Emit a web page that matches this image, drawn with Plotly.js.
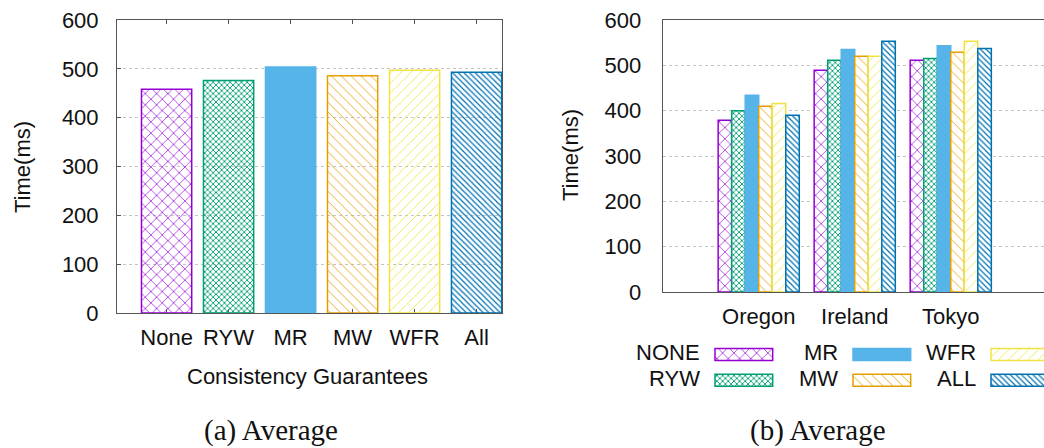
<!DOCTYPE html>
<html><head><meta charset="utf-8">
<script src="https://cdn.plot.ly/plotly-3.0.1.min.js"></script>
<style>html,body{margin:0;padding:0;background:#fff}#chart{width:1044px;height:448px}</style>
</head><body><div id="chart"></div>
<script>
// ---- data ----
const guarantees = ['None', 'RYW', 'MR', 'MW', 'WFR', 'All'];
const avgTime = [458, 476, 504, 486, 497, 493];

const regions = ['Oregon', 'Ireland', 'Tokyo'];
const seriesNames = ['NONE', 'RYW', 'MR', 'MW', 'WFR', 'ALL'];
const noneTime = [379, 489, 511];
const rywTime  = [400, 511, 515];
const mrTime   = [434, 535, 543];
const mwTime   = [410, 520, 529];
const wfrTime  = [416, 520, 553];
const allTime  = [390, 553, 537];
const regionSeries = [noneTime, rywTime, mrTime, mwTime, wfrTime, allTime];

const yTicks = [0, 100, 200, 300, 400, 500, 600];
const leftTitleY = 'Time(ms)';
const leftTitleX = 'Consistency Guarantees';
const captionA = '(a) Average';
const captionB = '(b) Average';

// ---- styles ----
const colors  = ['#9400d3', '#009e73', '#56b4e9', '#e69f00', '#f0e442', '#0072b2'];
const shapes  = ['x', 'x', '', '\\', '/', '\\'];
const psize   = [8, 4, 8, 7, 7, 4];
const psolid  = [0.16, 0.4, 0.3, 0.12, 0.12, 0.3];

const W = 1044, H = 448;
const px = v => v / W;
const py = v => 1 - v / H;
const sans = 'Liberation Sans, Arial, sans-serif';
const serif = 'Liberation Serif, Times New Roman, serif';
const tickFont = {family: sans, size: 22, color: '#111'};
const axisCol = '#555';

function markerFor(i) {
  return {
    color: colors[i],
    line: {color: colors[i], width: 1.5},
    pattern: {shape: shapes[i], fgcolor: colors[i], bgcolor: '#ffffff',
              size: psize[i], solidity: psolid[i], fillmode: 'replace'}
  };
}

const traces = [];
// Left chart: one bar per guarantee
traces.push({
  type: 'bar', x: guarantees, y: avgTime, width: 0.81, offset: -0.405,
  xaxis: 'x', yaxis: 'y', showlegend: false, hoverinfo: 'x+y',
  marker: {
    color: colors,
    line: {color: colors, width: 1.5},
    pattern: {shape: shapes, fgcolor: colors, bgcolor: '#ffffff',
              size: psize, solidity: psolid, fillmode: 'replace'}
  }
});
// Right chart: grouped by region
seriesNames.forEach((n, i) => {
  traces.push({
    type: 'bar', name: n, x: regions, y: regionSeries[i],
    xaxis: 'x2', yaxis: 'y2', showlegend: false, marker: markerFor(i)
  });
});
// Legend swatches (gnuplot style: label left, swatch right)
const legStep = 138, legStart = 15, legLen = 57.7;
const annotations = [];
seriesNames.forEach((n, i) => {
  const col = Math.floor(i / 2), row = i % 2;
  traces.push({
    type: 'bar', orientation: 'h', y: [row], x: [legLen], base: [legStart + col * legStep],
    width: 0.465, offset: -0.2325, xaxis: 'x3', yaxis: 'y3', showlegend: false,
    hoverinfo: 'skip', marker: markerFor(i)
  });
  annotations.push({
    xref: 'x3', yref: 'y3', x: legStart + col * legStep - 13, y: row, yshift: 2,
    xanchor: 'right', yanchor: 'middle', showarrow: false, text: n, font: tickFont
  });
});
// Titles and captions
annotations.push(
  {xref: 'paper', yref: 'paper', x: px(22.5), y: py(167.5), textangle: -90, showarrow: false,
   xanchor: 'center', yanchor: 'middle', text: leftTitleY, font: tickFont},
  {xref: 'paper', yref: 'paper', x: px(571), y: py(155), textangle: -90, showarrow: false,
   xanchor: 'center', yanchor: 'middle', text: leftTitleY, font: tickFont},
  {xref: 'paper', yref: 'paper', x: px(307.3), y: py(376.5), showarrow: false,
   xanchor: 'center', yanchor: 'middle', text: leftTitleX, font: tickFont},
  {xref: 'paper', yref: 'paper', x: px(271), y: py(430), showarrow: false,
   xanchor: 'center', yanchor: 'middle', text: captionA, font: {family: serif, size: 29, color: '#111'}},
  {xref: 'paper', yref: 'paper', x: px(817.7), y: py(430.8), showarrow: false,
   xanchor: 'center', yanchor: 'middle', text: captionB, font: {family: serif, size: 29, color: '#111'}}
);

const gridStyle = {showgrid: true, gridcolor: '#c4c4c4', griddash: 'dot', gridwidth: 1};

const layout = {
  width: W, height: H, margin: {l: 0, r: 0, t: 0, b: 0},
  paper_bgcolor: '#fff', plot_bgcolor: '#fff', showlegend: false,
  barmode: 'group', bargap: 0.155, bargroupgap: 0,
  font: {family: sans, size: 22, color: '#111'},
  xaxis: {domain: [px(117), px(502)], range: [-0.8, 5.41], type: 'category',
          showline: true, linecolor: axisCol, linewidth: 1, mirror: 'ticks',
          ticks: 'inside', ticklen: 4, tickcolor: axisCol, layer: 'below traces',
          showgrid: false, zeroline: false, tickfont: tickFont,
          ticklabelstandoff: 5, fixedrange: true, anchor: 'y'},
  yaxis: Object.assign({domain: [py(313), py(20)], range: [0, 600], tickvals: yTicks,
          showline: true, linecolor: axisCol, linewidth: 1, mirror: true,
          ticks: 'inside', ticklen: 4, tickcolor: axisCol, zeroline: false,
          tickfont: tickFont, ticklabelstandoff: 13, fixedrange: true, anchor: 'x'}, gridStyle),
  xaxis2: {domain: [px(662.7), 1], range: [-1.0, 2.971], type: 'category',
           showline: true, linecolor: axisCol, linewidth: 1, mirror: true,
           ticks: '', showgrid: false, zeroline: false, tickfont: tickFont,
           ticklabelstandoff: 5, fixedrange: true, anchor: 'y2'},
  yaxis2: Object.assign({domain: [py(292), py(20)], range: [0, 600], tickvals: yTicks,
           showline: true, linecolor: axisCol, linewidth: 1, mirror: false,
           ticks: '', zeroline: false, tickfont: tickFont, ticklabelstandoff: 16,
           fixedrange: true, anchor: 'x2'}, gridStyle),
  xaxis3: {domain: [px(700), 1], range: [0, 344], visible: false, fixedrange: true, anchor: 'y3'},
  yaxis3: {domain: [py(393.2), py(341.6)], range: [1.5, -0.5], visible: false, fixedrange: true, anchor: 'x3'},
  annotations: annotations
};

Plotly.newPlot('chart', traces, layout, {displayModeBar: false, staticPlot: true});
</script>
</body></html>
